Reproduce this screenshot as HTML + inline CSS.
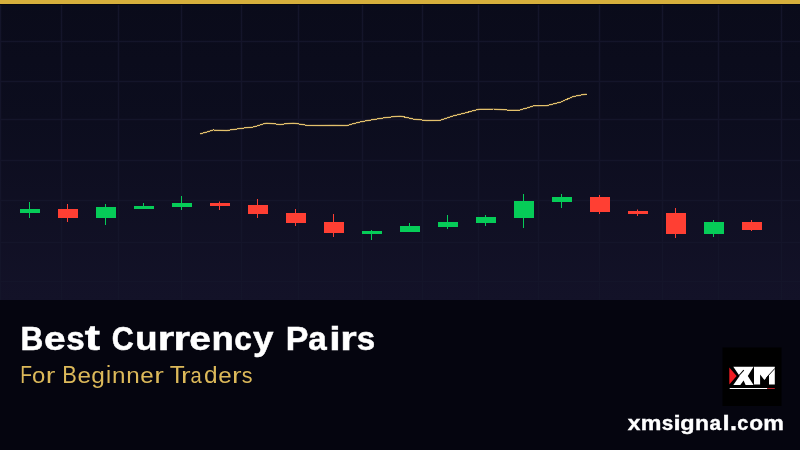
<!DOCTYPE html>
<html><head><meta charset="utf-8"><style>
html,body{margin:0;padding:0;}
body{width:800px;height:450px;overflow:hidden;position:relative;background:#05060f;font-family:"Liberation Sans",sans-serif;}
#chart{position:absolute;left:0;top:0;width:800px;height:300px;background:linear-gradient(to bottom,#0a0b1a 0%,#0c0d1e 40%,#131228 100%);}
#topbar{position:absolute;left:0;top:0;width:800px;height:4px;background:#d6af3c;border-bottom:1px solid #07070f;}
#panel{position:absolute;left:0;top:300px;width:800px;height:150px;background:#05050f;}
.t{position:absolute;white-space:nowrap;transform-origin:0 0;}
#title{left:20.5px;transform:scaleX(1.1646);top:322.9px;font-size:32px;line-height:1;font-weight:bold;color:#ffffff;-webkit-text-stroke:0.6px #ffffff;}
#sub{left:19.7px;transform:scaleX(1.105);top:364.1px;font-size:22.3px;line-height:1;color:#dcb95a;}
#url{left:626.75px;transform:scaleX(1.154);top:412.6px;font-size:20.5px;line-height:1;font-weight:bold;color:#ffffff;-webkit-text-stroke:0.4px #ffffff;}
#logo{position:absolute;left:722px;top:347px;width:60px;height:60px;}
#logo svg{position:absolute;left:0;top:0;}
</style></head><body>
<div id="chart"><svg width="800" height="300" style="position:absolute;left:0;top:0">
<g stroke="#14152a" stroke-width="1.5"><line x1="0.5" y1="4" x2="0.5" y2="300"/><line x1="61.5" y1="4" x2="61.5" y2="300"/><line x1="118.5" y1="4" x2="118.5" y2="300"/><line x1="181.5" y1="4" x2="181.5" y2="300"/><line x1="241.5" y1="4" x2="241.5" y2="300"/><line x1="298.5" y1="4" x2="298.5" y2="300"/><line x1="362.5" y1="4" x2="362.5" y2="300"/><line x1="422.5" y1="4" x2="422.5" y2="300"/><line x1="478.5" y1="4" x2="478.5" y2="300"/><line x1="538.5" y1="4" x2="538.5" y2="300"/><line x1="599.5" y1="4" x2="599.5" y2="300"/><line x1="662.5" y1="4" x2="662.5" y2="300"/><line x1="718.5" y1="4" x2="718.5" y2="300"/><line x1="781.5" y1="4" x2="781.5" y2="300"/><line x1="0" y1="41.5" x2="800" y2="41.5"/><line x1="0" y1="81.5" x2="800" y2="81.5"/><line x1="0" y1="119.5" x2="800" y2="119.5"/><line x1="0" y1="160.5" x2="800" y2="160.5"/><line x1="0" y1="200.5" x2="800" y2="200.5"/><line x1="0" y1="242.5" x2="800" y2="242.5"/><line x1="0" y1="281.5" x2="800" y2="281.5"/></g>
<rect x="29" y="202" width="1" height="16" fill="#06cc58"/><rect x="20" y="209" width="20" height="4" fill="#06cc58"/><rect x="67" y="204" width="1" height="18" fill="#ff3f33"/><rect x="58" y="209" width="20" height="9" fill="#ff3f33"/><rect x="105" y="204" width="1" height="21" fill="#06cc58"/><rect x="96" y="207" width="20" height="11" fill="#06cc58"/><rect x="143" y="203" width="1" height="6" fill="#06cc58"/><rect x="134" y="206" width="20" height="3" fill="#06cc58"/><rect x="181" y="196" width="1" height="14" fill="#06cc58"/><rect x="172" y="203" width="20" height="4" fill="#06cc58"/><rect x="219" y="201.5" width="1" height="8.5" fill="#ff3f33"/><rect x="210" y="203" width="20" height="3" fill="#ff3f33"/><rect x="257" y="199" width="1" height="19" fill="#ff3f33"/><rect x="248" y="205" width="20" height="9" fill="#ff3f33"/><rect x="295" y="209" width="1" height="17" fill="#ff3f33"/><rect x="286" y="213" width="20" height="10" fill="#ff3f33"/><rect x="333" y="214" width="1" height="23" fill="#ff3f33"/><rect x="324" y="222" width="20" height="11" fill="#ff3f33"/><rect x="371" y="230" width="1" height="10" fill="#06cc58"/><rect x="362" y="231" width="20" height="3" fill="#06cc58"/><rect x="409" y="223" width="1" height="9" fill="#06cc58"/><rect x="400" y="226" width="20" height="6" fill="#06cc58"/><rect x="447" y="215" width="1" height="14" fill="#06cc58"/><rect x="438" y="222" width="20" height="5" fill="#06cc58"/><rect x="485" y="215" width="1" height="11" fill="#06cc58"/><rect x="476" y="217" width="20" height="6" fill="#06cc58"/><rect x="523" y="194" width="1" height="34" fill="#06cc58"/><rect x="514" y="201" width="20" height="17" fill="#06cc58"/><rect x="561" y="194" width="1" height="14" fill="#06cc58"/><rect x="552" y="197" width="20" height="5" fill="#06cc58"/><rect x="599" y="195" width="1" height="19" fill="#ff3f33"/><rect x="590" y="197" width="20" height="15" fill="#ff3f33"/><rect x="637" y="209.5" width="1" height="6.5" fill="#ff3f33"/><rect x="628" y="211" width="20" height="3" fill="#ff3f33"/><rect x="675" y="208" width="1" height="30" fill="#ff3f33"/><rect x="666" y="213" width="20" height="21" fill="#ff3f33"/><rect x="713" y="220" width="1" height="17" fill="#06cc58"/><rect x="704" y="222" width="20" height="12" fill="#06cc58"/><rect x="751" y="220" width="1" height="11" fill="#ff3f33"/><rect x="742" y="222" width="20" height="8" fill="#ff3f33"/>
<polyline points="200.0,134.0 213.3,130.0 226.7,130.5 240.0,128.5 253.3,127.0 266.7,123.0 280.0,124.5 293.3,123.0 306.7,125.3 320.0,125.5 333.3,125.2 346.7,125.5 360.0,122.0 373.3,119.5 386.7,117.5 400.0,116.0 413.4,119.0 426.7,120.5 440.0,120.3 453.4,115.8 466.7,112.5 480.0,109.0 493.4,109.0 506.7,110.0 520.0,110.0 533.4,106.0 546.7,105.7 560.0,102.3 573.4,96.5 586.7,94.0" fill="none" stroke="#d9b565" stroke-width="2" stroke-opacity="0.3"/>
<polyline points="200.0,134.0 213.3,130.0 226.7,130.5 240.0,128.5 253.3,127.0 266.7,123.0 280.0,124.5 293.3,123.0 306.7,125.3 320.0,125.5 333.3,125.2 346.7,125.5 360.0,122.0 373.3,119.5 386.7,117.5 400.0,116.0 413.4,119.0 426.7,120.5 440.0,120.3 453.4,115.8 466.7,112.5 480.0,109.0 493.4,109.0 506.7,110.0 520.0,110.0 533.4,106.0 546.7,105.7 560.0,102.3 573.4,96.5 586.7,94.0" fill="none" stroke="#e2c06c" stroke-width="1" shape-rendering="crispEdges"/>
</svg></div>
<div id="topbar"></div>
<div id="panel"></div>
<svg width="800" height="450" style="position:absolute;left:0;top:0;will-change:transform"><g font-family="Liberation Sans" font-size="32" font-weight="bold" fill="#ffffff" stroke="#ffffff" stroke-width="0.5"><text transform="matrix(0.9860 0 0 1.0596 20.437 350.000)">B</text><text transform="matrix(1.2182 0 0 1.0409 43.907 350.000)">e</text><text transform="matrix(1.0358 0 0 1.0390 66.314 350.000)">s</text><text transform="matrix(1.4339 0 0 1.0767 84.763 350.000)">t</text><text transform="matrix(0.9503 0 0 1.0630 111.752 350.000)">C</text><text transform="matrix(1.1414 0 0 1.0360 135.173 350.000)">u</text><text transform="matrix(1.3213 0 0 1.0390 157.675 350.000)">r</text><text transform="matrix(1.3213 0 0 1.0390 173.492 350.000)">r</text><text transform="matrix(1.2182 0 0 1.0409 189.266 350.000)">e</text><text transform="matrix(1.1414 0 0 1.0390 211.447 350.000)">n</text><text transform="matrix(0.9921 0 0 1.0409 234.139 350.000)">c</text><text transform="matrix(1.1482 0 0 1.0360 253.105 350.000)">y</text><text transform="matrix(1.0626 0 0 1.0596 285.763 350.000)">P</text><text transform="matrix(1.0381 0 0 1.0409 308.156 350.000)">a</text><text transform="matrix(1.2804 0 0 1.0483 329.213 350.000)">i</text><text transform="matrix(1.3213 0 0 1.0390 340.287 350.000)">r</text><text transform="matrix(1.0358 0 0 1.0390 356.709 350.000)">s</text></g><g font-family="Liberation Sans" font-size="22" font-weight="normal" fill="#dcb95a" ><text transform="matrix(0.8757 0 0 1.0596 20.224 382.900)">F</text><text transform="matrix(1.0870 0 0 1.0409 31.963 382.900)">o</text><text transform="matrix(1.3082 0 0 1.0409 45.635 382.900)">r</text><text transform="matrix(0.9932 0 0 1.0596 62.289 382.900)">B</text><text transform="matrix(1.1025 0 0 1.0409 77.521 382.900)">e</text><text transform="matrix(1.1106 0 0 1.0428 91.348 382.900)">g</text><text transform="matrix(1.0452 0 0 1.0483 105.984 382.900)">i</text><text transform="matrix(1.1014 0 0 1.0409 112.105 382.900)">n</text><text transform="matrix(1.1014 0 0 1.0409 126.354 382.900)">n</text><text transform="matrix(1.1025 0 0 1.0409 140.374 382.900)">e</text><text transform="matrix(1.3082 0 0 1.0409 154.138 382.900)">r</text><text transform="matrix(1.1141 0 0 1.0596 169.773 382.900)">T</text><text transform="matrix(1.3082 0 0 1.0409 180.953 382.900)">r</text><text transform="matrix(0.9186 0 0 1.0409 190.550 382.900)">a</text><text transform="matrix(1.1106 0 0 1.0483 204.039 382.900)">d</text><text transform="matrix(1.1025 0 0 1.0409 218.320 382.900)">e</text><text transform="matrix(1.3082 0 0 1.0409 232.083 382.900)">r</text><text transform="matrix(0.9798 0 0 1.0428 241.790 382.900)">s</text></g><g font-family="Liberation Sans" font-size="20" font-weight="bold" fill="#ffffff" stroke="#ffffff" stroke-width="0.35"><text transform="matrix(1.1417 0 0 1.0360 627.762 429.800)">x</text><text transform="matrix(1.1633 0 0 1.0390 640.712 429.800)">m</text><text transform="matrix(1.0395 0 0 1.0390 661.862 429.800)">s</text><text transform="matrix(1.2850 0 0 1.0483 673.409 429.800)">i</text><text transform="matrix(1.1740 0 0 1.0371 680.358 429.800)">g</text><text transform="matrix(1.1455 0 0 1.0390 694.994 429.800)">n</text><text transform="matrix(1.0418 0 0 1.0409 709.400 429.800)">a</text><text transform="matrix(1.2850 0 0 1.0483 722.608 429.800)">l</text><text transform="matrix(1.2557 0 0 1.2685 729.959 429.800)">.</text><text transform="matrix(0.9957 0 0 1.0409 737.346 429.800)">c</text><text transform="matrix(1.1343 0 0 1.0409 749.165 429.800)">o</text><text transform="matrix(1.1633 0 0 1.0390 763.142 429.800)">m</text></g></svg>
<div id="logo"><svg width="60" height="60" viewBox="722 347 60 60">
<rect x="722.5" y="347.5" width="59" height="58.5" fill="#000"/>
<polygon points="729.3,367.4 736.6,376 729.3,384.5" fill="#f01c22"/>
<polygon points="733.3,366.7 753.6,366.7 747.8,376 753.6,385.1 745.6,385.1 743.6,380.5 740.3,385.1 733.3,385.1 739.6,376" fill="#ffffff"/>
<line x1="743.8" y1="370.2" x2="739" y2="375.5" stroke="#000" stroke-width="1.1"/>
<polygon points="754,366.7 774.8,366.7 774.8,384.5 769,384.5 769,374.7 764.4,380 760.1,374.4 760.1,384.5 754,384.5" fill="#ffffff"/>
<line x1="775" y1="368.3" x2="766.3" y2="377.8" stroke="#000" stroke-width="0.9"/>
<rect x="729.7" y="388" width="37.7" height="1" fill="#ffffff"/>
<rect x="767.4" y="388" width="7.4" height="1" fill="#b8222a"/>
</svg></div>

</body></html>
